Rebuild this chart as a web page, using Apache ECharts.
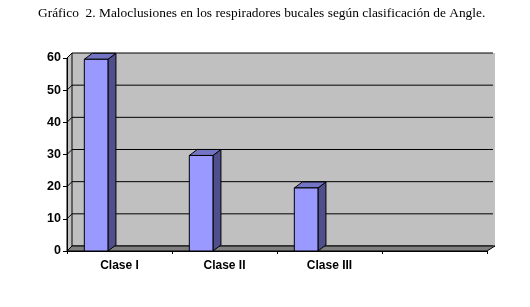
<!DOCTYPE html>
<html>
<head>
<meta charset="utf-8">
<script src="https://cdn.jsdelivr.net/npm/echarts@6/dist/echarts.min.js"></script>
<style>
html,body{margin:0;padding:0;background:#fff;}
#c{width:530px;height:307px;}
</style>
</head>
<body>
<div id="c"></div>
<script>
const titleText = 'Gráfico  2. Maloclusiones en los respiradores bucales según clasificación de Angle.';
const categories = ['Clase I', 'Clase II', 'Clase III', ''];
const values = [59.6, 29.7, 19.6];
const yTicks = [0, 10, 20, 30, 40, 50, 60];

const DX = 5, DY = -5, DXR = 8;
const chart = echarts.init(document.getElementById('c'), null, {renderer: 'canvas'});

function frameRender(params, api) {
  const cs = params.coordSys;
  const left = cs.x, right = cs.x + cs.width, top = cs.y, bottom = cs.y + cs.height;
  const children = [];
  children.push({type: 'rect', shape: {x: left + DX, y: top + DY, width: (right + DXR) - (left + DX), height: cs.height},
    style: {fill: '#c0c0c0', stroke: null}});
  children.push({type: 'polygon', shape: {points: [[left, bottom], [left, top], [left + DX, top + DY], [left + DX, bottom + DY]]},
    style: {fill: '#c0c0c0', stroke: '#000', lineWidth: 1}});
  yTicks.forEach(function (t) {
    const y = api.coord([0, t])[1];
    children.push({type: 'polyline', shape: {points: [[left, y], [left + DX, y + DY], [right + DXR - 2, y + DY]]},
      style: {stroke: '#000', lineWidth: 1, fill: null}});
  });
  children.push({type: 'polygon', shape: {points: [[left, bottom], [right, bottom], [right + DXR, bottom + DY], [left + DX, bottom + DY]]},
    style: {fill: '#808080', stroke: '#000', lineWidth: 1}});
  return {type: 'group', children: children};
}

function barRender(params, api) {
  const i = api.value(0), v = api.value(1);
  const c0 = api.coord([i, 0]);
  const c1 = api.coord([i, v]);
  const band = api.size([1, 0])[0];
  const x0 = c0[0] - band * 0.335;
  const w = band * 0.225;
  const yb = c0[1], yt = c1[1];
  const sx = 8, sy = -6;
  return {type: 'group', children: [
    {type: 'polygon', shape: {points: [[x0 + w, yb], [x0 + w, yt], [x0 + w + sx, yt + sy], [x0 + w + sx, yb + sy]]},
      style: {fill: '#4f4f8c', stroke: '#000', lineWidth: 1}},
    {type: 'polygon', shape: {points: [[x0, yt], [x0 + w, yt], [x0 + w + sx, yt + sy], [x0 + sx, yt + sy]]},
      style: {fill: '#7474c4', stroke: '#000', lineWidth: 1}},
    {type: 'rect', shape: {x: x0, y: yt, width: w, height: yb - yt},
      style: {fill: '#9999ff', stroke: '#000', lineWidth: 1}}
  ]};
}

chart.setOption({
  animation: false,
  backgroundColor: '#ffffff',
  title: {
    text: titleText, left: 33, top: 2,
    textStyle: {fontFamily: '"Liberation Serif", "Times New Roman", serif', fontSize: 13.4, fontWeight: 'normal', color: '#000'}
  },
  grid: {left: 67, right: 43, top: 58, bottom: 56},
  xAxis: {
    type: 'category', data: categories, z: 10,
    axisLine: {lineStyle: {color: '#000', width: 1}},
    axisTick: {show: true, length: 3, alignWithLabel: false, lineStyle: {color: '#000'}},
    axisLabel: {color: '#000', fontFamily: 'Arial, "Liberation Sans", sans-serif', fontWeight: 'bold', fontSize: 12, margin: 9},
    splitLine: {show: false}
  },
  yAxis: {
    type: 'value', min: 0, max: 60, interval: 10, z: 10,
    axisLine: {show: true, lineStyle: {color: '#000', width: 1}},
    axisTick: {show: true, length: 4, lineStyle: {color: '#000'}},
    axisLabel: {color: '#000', fontFamily: 'Arial, "Liberation Sans", sans-serif', fontWeight: 'bold', fontSize: 12.5, margin: 6},
    splitLine: {show: false}
  },
  series: [
    {type: 'custom', renderItem: frameRender, data: [[0, 0]], z: 1, silent: true},
    {type: 'custom', renderItem: barRender, data: values.map(function (v, i) { return [i, v]; }), z: 3}
  ]
});
</script>
</body>
</html>
